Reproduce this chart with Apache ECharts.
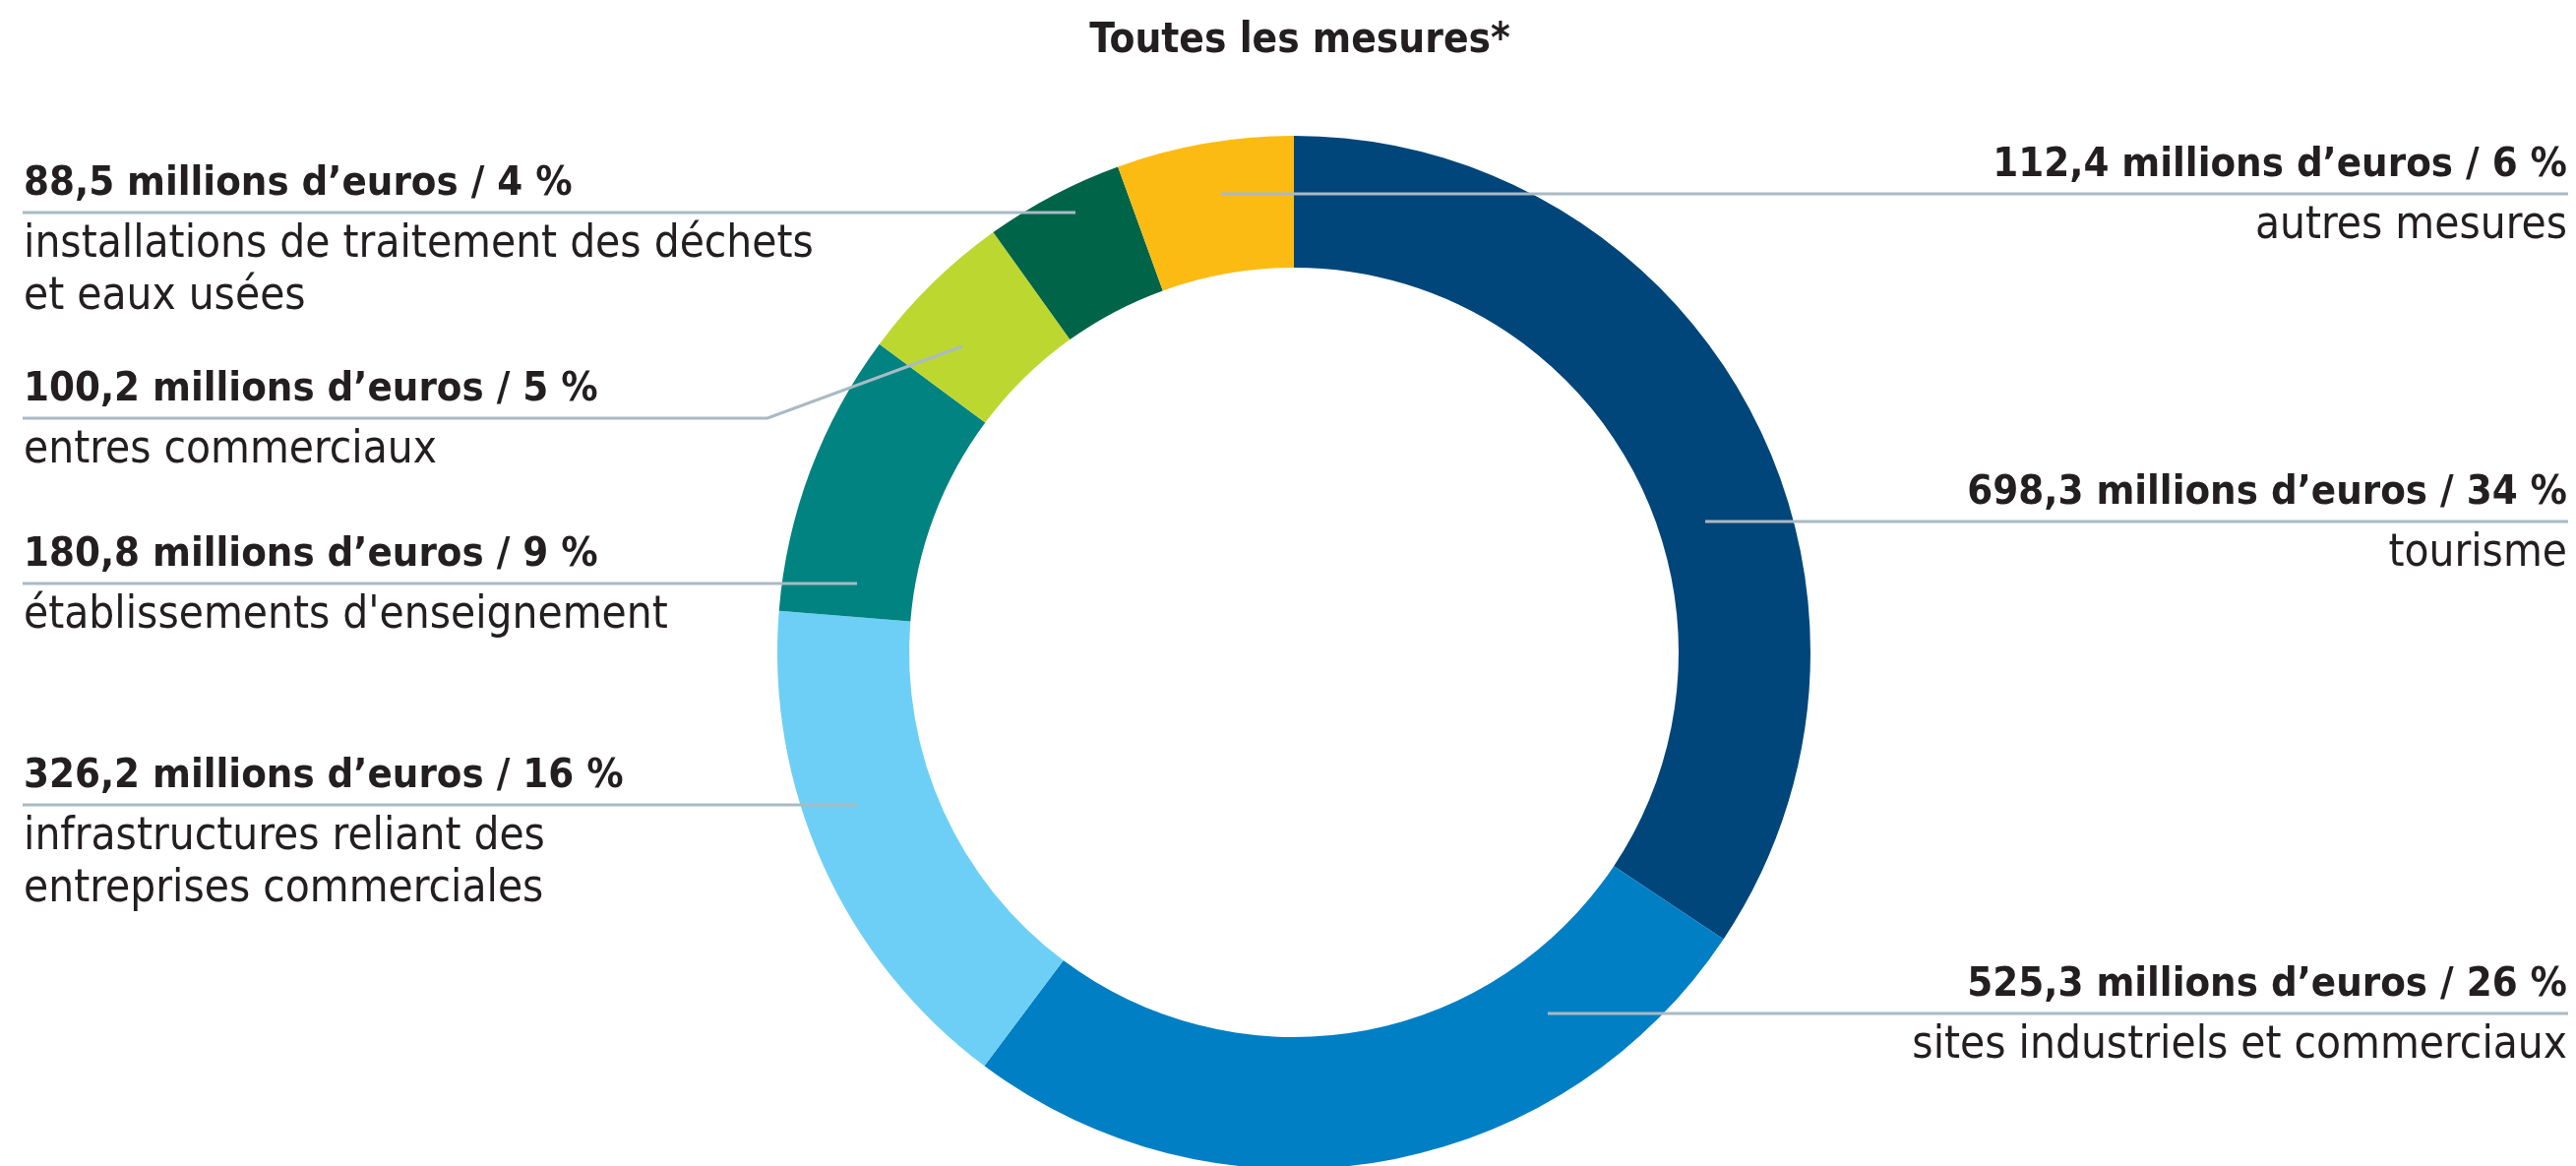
<!DOCTYPE html>
<html>
<head>
<meta charset="utf-8">
<title>Toutes les mesures</title>
<script src="https://cdn.jsdelivr.net/npm/echarts@6/dist/echarts.min.js"></script>
<style>
  html, body { margin: 0; padding: 0; background: #fff; }
  #chart { width: 2618px; height: 1185px; }
</style>
</head>
<body>
<div id="chart"></div>
<script>
// montants en millions d'euros, sens horaire depuis midi
var categories = [
  'tourisme',
  'sites industriels et commerciaux',
  'infrastructures reliant des\nentreprises commerciales',
  "établissements d'enseignement",
  'entres commerciaux',
  'installations de traitement des déchets\net eaux usées',
  'autres mesures'
];
var amounts = [698.3, 525.3, 326.2, 180.8, 100.2, 88.5, 112.4];
var colors = ['#00467a', '#007fc4', '#6dcff6', '#008381', '#bdd731', '#006449', '#fcbb13'];

// placement des étiquettes (hauteur du trait, côté, début du trait dans l'anneau)
var labelSide = ['right', 'right', 'left', 'left', 'left', 'left', 'right'];
var labelLineY = [530, 1030, 818, 593, 425, 216, 197];
var lineStart = [[1733, 530], [1573, 1030], [871, 818], [871, 593], [978, 352], [1093, 216], [1241, 197]];
var lineBend = { 4: [780, 425] };

var FONT = "'Liberation Sans Narrow', 'DejaVu Sans Condensed', sans-serif";
var TEXT = '#231f20';
var LEFT_X = 24, RIGHT_X = 2609;
var CENTER = [1315, 663];
var RADIUS = [391, 525];

var total = amounts.reduce(function (a, b) { return a + b; }, 0);

function fmt(v) {
  return v.toFixed(1).replace('.', ',');
}

var chart = echarts.init(document.getElementById('chart'));

chart.setOption({
  animation: false,
  title: {
    text: 'Toutes les mesures*',
    left: 1316,
    top: 16,
    textAlign: 'center',
    textStyle: { fontFamily: FONT, fontSize: 42, fontWeight: 'bold', color: TEXT }
  },
  series: [
    // l'anneau
    {
      type: 'pie',
      center: CENTER,
      radius: RADIUS,
      startAngle: 90,
      clockwise: true,
      silent: true,
      z: 2,
      data: categories.map(function (c, i) {
        return { name: c, value: amounts[i], itemStyle: { color: colors[i] } };
      }),
      label: { show: false },
      labelLine: { show: false }
    },
    // même anneau, transparent, pour que les traits passent par-dessus
    {
      type: 'pie',
      center: CENTER,
      radius: RADIUS,
      startAngle: 90,
      clockwise: true,
      silent: true,
      z: 5,
      avoidLabelOverlap: false,
      data: categories.map(function (c, i) {
        return { name: c, value: amounts[i] };
      }),
      itemStyle: { color: 'rgba(0,0,0,0)' },
      label: {
        show: true,
        position: 'outside',
        fontFamily: FONT,
        color: TEXT,
        formatter: function (p) {
          var pct = Math.round(p.value / total * 100);
          var lines = p.name.split('\n');
          return '{b|' + fmt(p.value) + ' millions d’euros / ' + pct + ' %}\n{n|' + lines.join('}\n{n|') + '}';
        },
        rich: {
          b: { fontFamily: FONT, fontSize: 41.5, fontWeight: 'bold', lineHeight: 71, color: TEXT },
          n: { fontFamily: FONT, fontSize: 45.5, lineHeight: 53, color: TEXT }
        }
      },
      labelLine: {
        show: true,
        lineStyle: { color: '#a9bac4', width: 3 }
      },
      labelLayout: function (p) {
        var i = p.dataIndex;
        var y = labelLineY[i];
        var right = labelSide[i] === 'right';
        var endX = right ? 2610 : 23;
        var pts = [lineStart[i]];
        if (lineBend[i]) {
          pts.push(lineBend[i]);
        } else {
          pts.push(lineStart[i]);
        }
        pts.push([endX, y]);
        return {
          x: right ? RIGHT_X : LEFT_X,
          y: y - 64.5,
          align: right ? 'right' : 'left',
          verticalAlign: 'top',
          labelLinePoints: pts
        };
      },
      emphasis: { disabled: true }
    }
  ]
});

window.onresize = chart.resize;
</script>
</body>
</html>
